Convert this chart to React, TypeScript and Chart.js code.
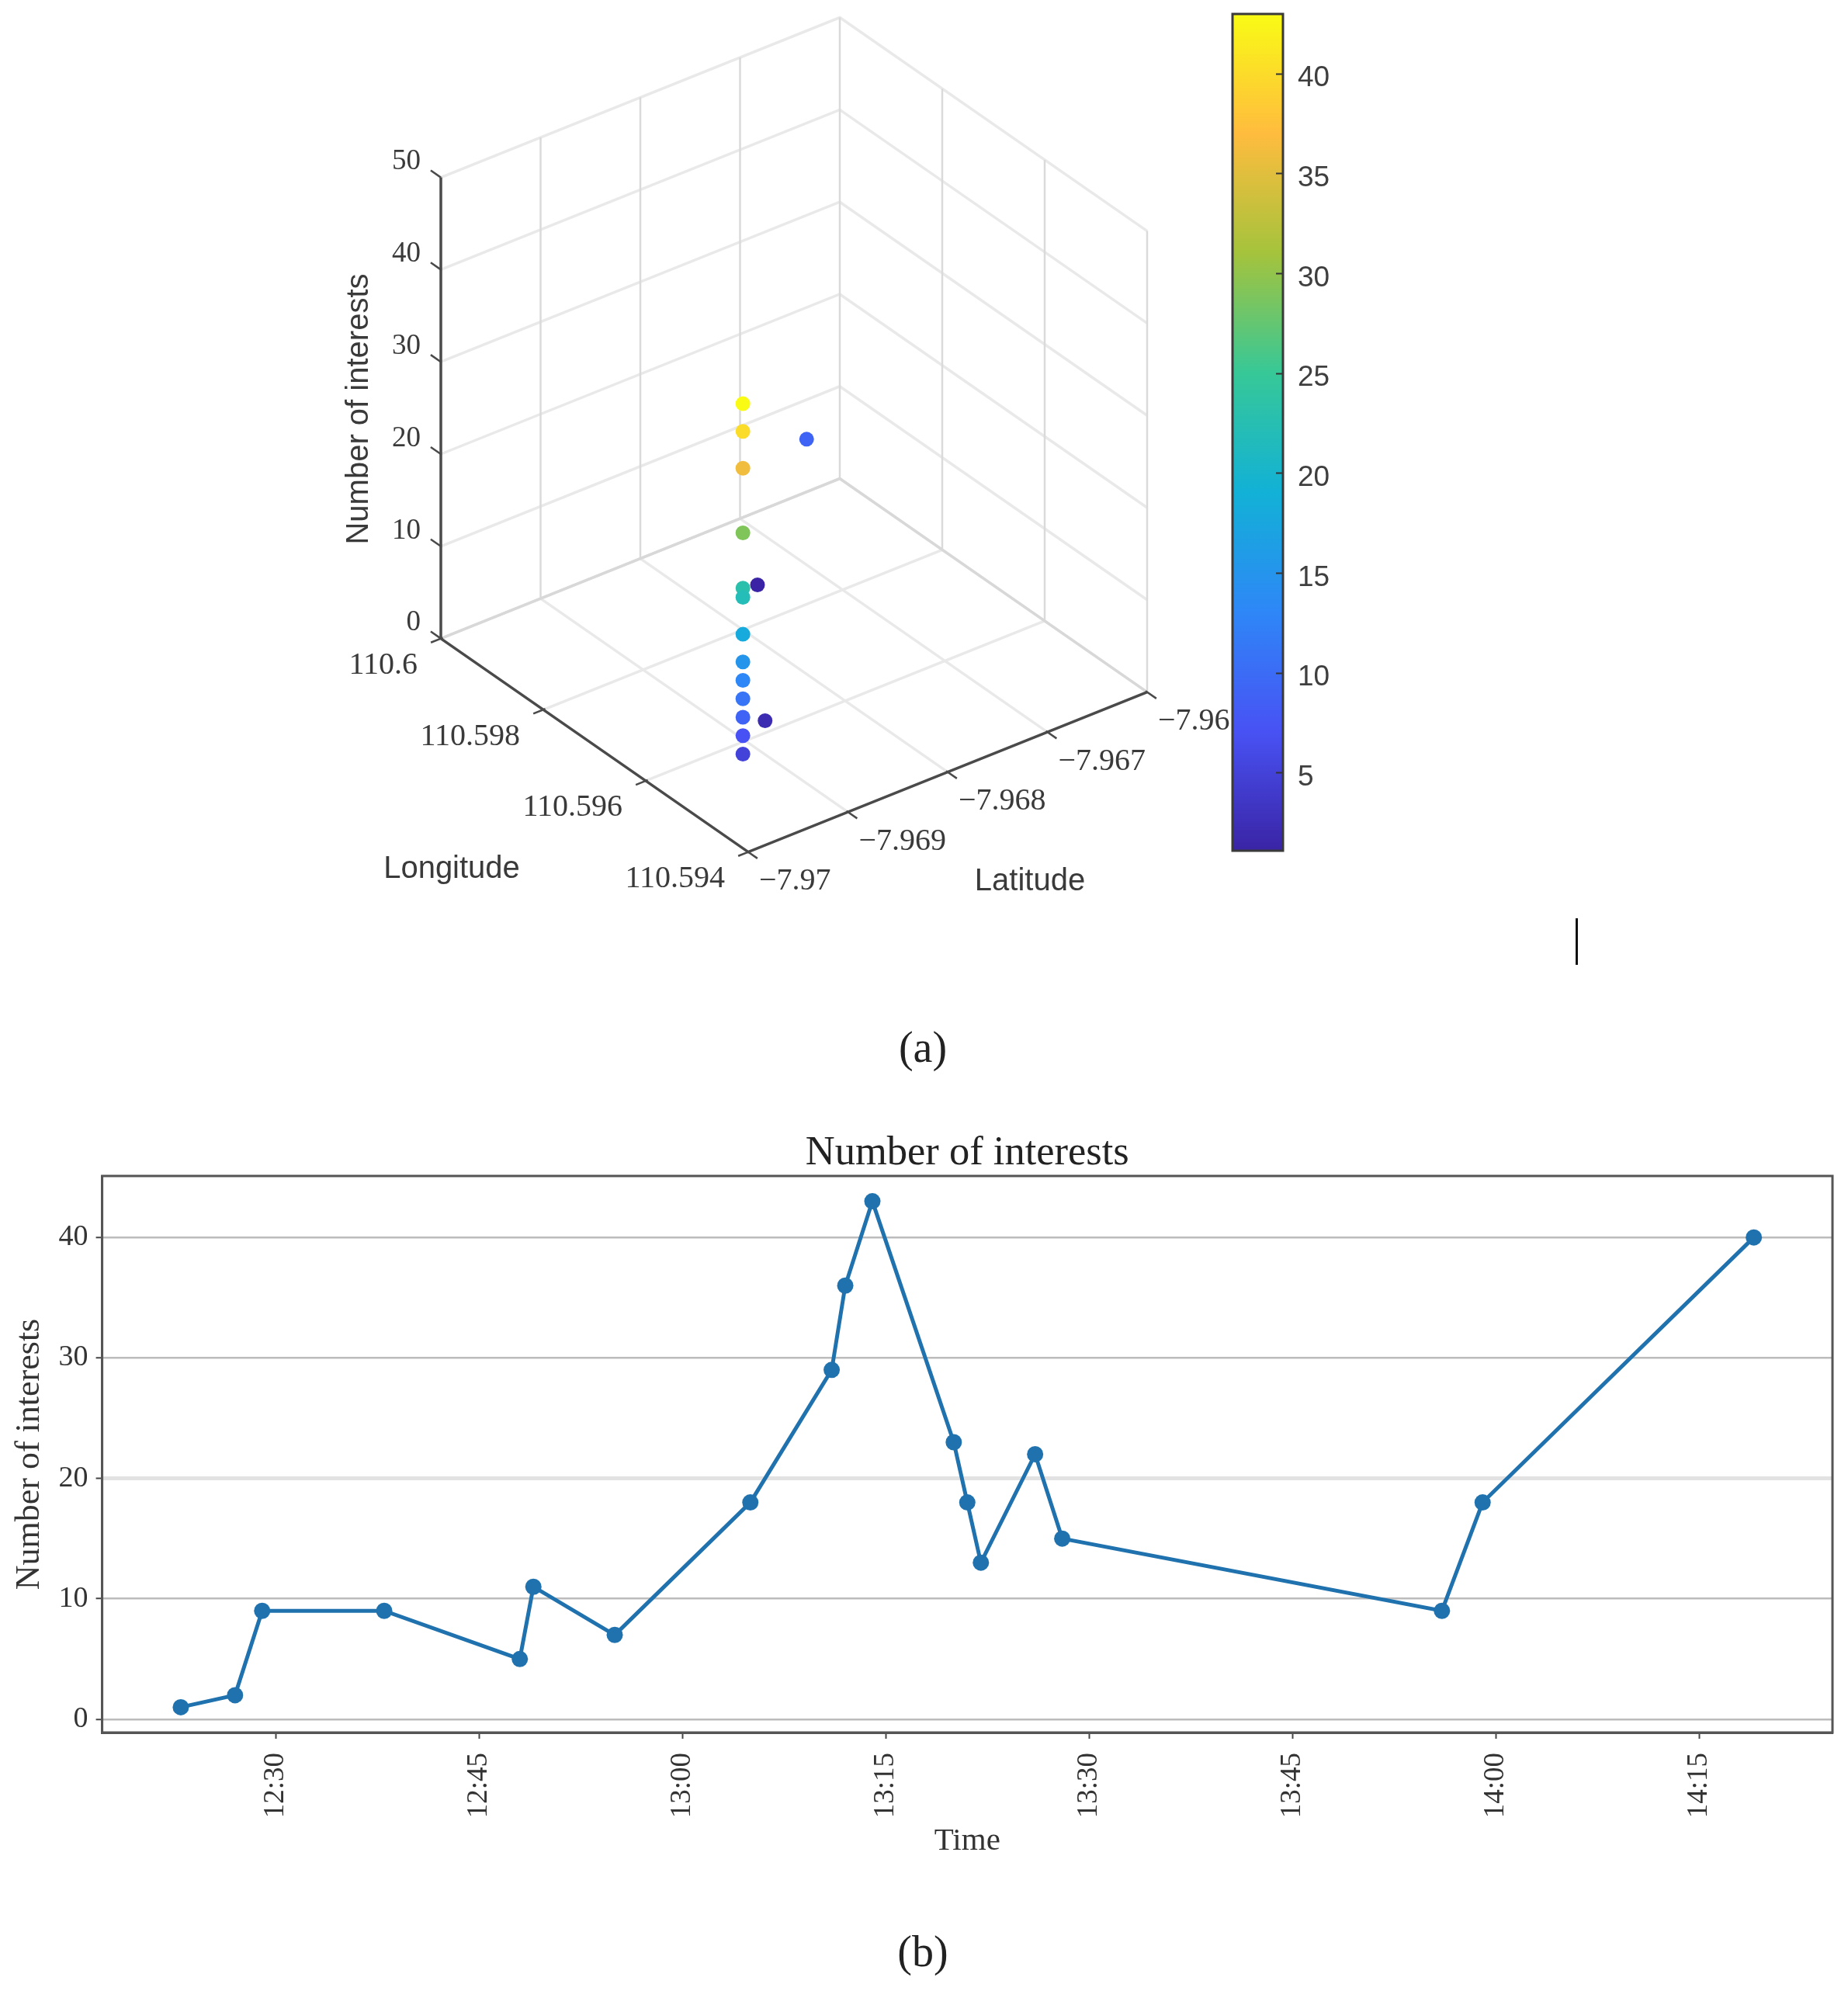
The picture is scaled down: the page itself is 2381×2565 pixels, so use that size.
import React, { useEffect, useRef } from 'react';
import { Chart, registerables } from 'chart.js';

Chart.register(...registerables);

// panel (a): location of every record
const longitudes = [110.59496, 110.59496, 110.59496, 110.59496, 110.59496, 110.59496, 110.59496, 110.59496, 110.59496, 110.59496, 110.59496, 110.59496, 110.59496, 110.59853, 110.59589, 110.59946];
const latitudes = [-7.96956, -7.96956, -7.96956, -7.96956, -7.96956, -7.96956, -7.96956, -7.96956, -7.96956, -7.96956, -7.96956, -7.96956, -7.96956, -7.96758, -7.96886, -7.96661];
const interests3d = [43, 40, 36, 29, 23, 22, 18, 15, 13, 11, 9, 7, 5, 1, 2, 9];

const lonTicks = ['110.6', '110.598', '110.596', '110.594'];
const latTicks = ['−7.97', '−7.969', '−7.968', '−7.967', '−7.966'];
const zTicks = [0, 10, 20, 30, 40, 50];
const colorbarTicks = [5, 10, 15, 20, 25, 30, 35, 40];
const parula = [[58, 36, 165], [72, 82, 244], [46, 135, 247], [18, 177, 214], [55, 200, 151], [165, 195, 60], [255, 188, 62], [249, 251, 21]];

// panel (b): time series
const times = ['12:23', '12:27', '12:29', '12:38', '12:48', '12:49', '12:55', '13:05', '13:11', '13:12', '13:14', '13:20', '13:21', '13:22', '13:26', '13:28', '13:56', '13:59', '14:19'];
const interests = [1, 2, 9, 9, 5, 11, 7, 18, 29, 36, 43, 23, 18, 13, 22, 15, 9, 18, 40];
const timeTicks = ['12:30', '12:45', '13:00', '13:15', '13:30', '13:45', '14:00', '14:15'];
const countTicks = [0, 10, 20, 30, 40];

const SERIF = '"Liberation Serif", serif';
const SANS = '"Liberation Sans", sans-serif';

const toMinutes = (t: string) => {
    const [h, m] = t.split(':').map(Number);
    return h * 60 + m;
};
const toLabel = (v: number) => `${Math.floor(v / 60)}:${String(v % 60).padStart(2, '0')}`;
const latValue = (s: string) => Number(s.replace('−', '-'));

// orthographic view of the box, gives canvas units
const project = (lon: number, lat: number, z: number, du = 0, dv = 0) => {
    const u = (110.6 - lon) / 0.006 + du;
    const v = (lat + 7.97) / 0.004 + dv;
    return {
        x: 568 + 396 * u + 514 * v,
        y: 822.6 + 275 * u - 206 * v - 11.88 * z,
    };
};

const colorFor = (value: number) => {
    const t = ((value - 1) / 42) * (parula.length - 1);
    const i = Math.min(Math.floor(t), parula.length - 2);
    const f = t - i;
    const c = parula[i].map((p, k) => Math.round(p + (parula[i + 1][k] - p) * f));
    return `rgb(${c[0]},${c[1]},${c[2]})`;
};

const GAP = { x: NaN, y: NaN };
const LON_MIN = 110.594, LON_MAX = 110.6, LAT_MIN = -7.97, LAT_MAX = -7.966, Z_MAX = 50;

const buildGrid = () => {
    const horizontal: any[] = [];
    const vertical: any[] = [];
    const edges: any[] = [];
    const axes: any[] = [];
    const marks: any[] = [];

    zTicks.forEach(z => {
        const list = z === 0 ? edges : horizontal;
        list.push(project(LON_MAX, LAT_MIN, z), project(LON_MAX, LAT_MAX, z), project(LON_MIN, LAT_MAX, z), GAP);
        marks.push(project(LON_MAX, LAT_MIN, z), project(LON_MAX, LAT_MIN, z, -0.033, 0), GAP);
    });
    latTicks.forEach(s => {
        const lat = latValue(s);
        horizontal.push(project(LON_MAX, lat, 0), project(LON_MIN, lat, 0), GAP);
        if (lat !== LAT_MIN) vertical.push(project(LON_MAX, lat, 0), project(LON_MAX, lat, Z_MAX), GAP);
        marks.push(project(LON_MIN, lat, 0, -0.005, 0), project(LON_MIN, lat, 0, 0.03, 0), GAP);
    });
    lonTicks.forEach(s => {
        const lon = Number(s);
        horizontal.push(project(lon, LAT_MIN, 0), project(lon, LAT_MAX, 0), GAP);
        if (lon !== LON_MAX) vertical.push(project(lon, LAT_MAX, 0), project(lon, LAT_MAX, Z_MAX), GAP);
        marks.push(project(lon, LAT_MIN, 0, 0, 0.005), project(lon, LAT_MIN, 0, 0, -0.025), GAP);
    });
    axes.push(project(LON_MAX, LAT_MIN, Z_MAX), project(LON_MAX, LAT_MIN, 0), project(LON_MIN, LAT_MIN, 0), project(LON_MIN, LAT_MAX, 0));
    return { horizontal, vertical, edges, axes, marks };
};

const box3dLabels = {
    id: 'box3dLabels',
    afterDraw(chart: any) {
        const { ctx, scales } = chart;
        const px = (p: { x: number; y: number }) => ({ x: scales.x.getPixelForValue(p.x), y: scales.y.getPixelForValue(p.y) });
        ctx.save();
        ctx.fillStyle = '#3a3a3a';
        ctx.textBaseline = 'middle';
        ctx.font = `37px ${SERIF}`;
        ctx.textAlign = 'right';
        zTicks.forEach(z => {
            const p = px(project(LON_MAX, LAT_MIN, z));
            ctx.fillText(String(z), p.x - 26, p.y - 20);
        });
        ctx.font = `40px ${SERIF}`;
        lonTicks.forEach(s => {
            const p = px(project(Number(s), LAT_MIN, 0));
            ctx.fillText(s, p.x - 30, p.y + 35);
        });
        ctx.textAlign = 'left';
        latTicks.forEach(s => {
            const p = px(project(LON_MIN, latValue(s), 0));
            ctx.fillText(s, p.x + 14, p.y + 38);
        });
        ctx.font = `40px ${SANS}`;
        ctx.textAlign = 'center';
        ctx.fillText('Longitude', 582, 1120);
        ctx.fillText('Latitude', 1327, 1136);
        ctx.translate(463, 527);
        ctx.rotate(-Math.PI / 2);
        ctx.fillText('Number of interests', 0, 0);
        ctx.restore();
    },
};

const frame = (color: string, width: number) => ({
    id: 'frame',
    afterDraw(chart: any) {
        const { ctx, chartArea: a } = chart;
        ctx.save();
        ctx.strokeStyle = color;
        ctx.lineWidth = width;
        ctx.strokeRect(a.left, a.top, a.right - a.left, a.bottom - a.top);
        ctx.restore();
    },
});

const Scatter3d: React.FC = () => {
    const ref = useRef<HTMLCanvasElement>(null);
    useEffect(() => {
        if (!ref.current) return;
        const grid = buildGrid();
        const lineSet = (data: any[], color: string, width: number) => ({
            type: 'scatter' as const,
            data,
            showLine: true,
            spanGaps: false,
            borderColor: color,
            borderWidth: width,
            pointRadius: 0,
        });
        const chart = new Chart(ref.current, {
            type: 'scatter',
            data: {
                datasets: [
                    {
                        data: interests3d.map((z, i) => project(longitudes[i], latitudes[i], z)),
                        pointBackgroundColor: interests3d.map(colorFor),
                        pointBorderWidth: 0,
                        pointRadius: 9.5,
                    },
                    lineSet(grid.axes, '#4a4a4a', 3.5),
                    lineSet(grid.marks, '#4a4a4a', 2.5),
                    lineSet(grid.edges, '#d8d8d8', 3.5),
                    lineSet(grid.vertical, '#dadada', 2.5),
                    lineSet(grid.horizontal, '#e9e9e9', 3.5),
                ] as any,
            },
            options: {
                responsive: false,
                animation: false,
                devicePixelRatio: 1,
                events: [],
                layout: { padding: 0, autoPadding: false },
                scales: {
                    x: { type: 'linear', display: false, min: 0, max: 2381 },
                    y: { type: 'linear', display: false, min: 0, max: 1440, reverse: true },
                },
                plugins: { legend: { display: false }, tooltip: { enabled: false } },
            },
            plugins: [box3dLabels],
        });
        return () => chart.destroy();
    }, []);
    return <canvas ref={ref} width={2381} height={1440} style={{ position: 'absolute', left: 0, top: 0 }} />;
};

const Colorbar: React.FC = () => {
    const ref = useRef<HTMLCanvasElement>(null);
    useEffect(() => {
        if (!ref.current) return;
        const chart = new Chart(ref.current, {
            type: 'bar',
            data: {
                labels: [''],
                datasets: [{
                    data: [[1.1, 43]] as any,
                    barPercentage: 1,
                    categoryPercentage: 1,
                    borderSkipped: false,
                    backgroundColor: (c: any) => {
                        const area = c.chart.chartArea;
                        if (!area) return '#888';
                        const g = c.chart.ctx.createLinearGradient(0, area.bottom, 0, area.top);
                        parula.forEach((p, i) => g.addColorStop(i / (parula.length - 1), `rgb(${p[0]},${p[1]},${p[2]})`));
                        return g;
                    },
                }],
            },
            options: {
                responsive: false,
                animation: false,
                devicePixelRatio: 1,
                events: [],
                layout: { padding: { left: 3, top: 18, bottom: 44, right: 0 }, autoPadding: false },
                scales: {
                    x: { display: false },
                    y: {
                        position: 'right',
                        min: 1.1,
                        max: 43,
                        afterBuildTicks: (s: any) => { s.ticks = colorbarTicks.map(value => ({ value })); },
                        afterFit: (s: any) => { s.width = 232; s.paddingTop = 0; s.paddingBottom = 0; },
                        border: { display: false },
                        grid: { drawOnChartArea: false, tickLength: -9, tickColor: '#333', tickWidth: 2, z: 1 },
                        ticks: { color: '#3f3f3f', padding: 28, labelOffset: 6, font: { family: SANS, size: 37 } },
                    },
                },
                plugins: { legend: { display: false }, tooltip: { enabled: false } },
            },
            plugins: [frame('#3a3a3a', 3)],
        });
        return () => chart.destroy();
    }, []);
    return <canvas ref={ref} width={300} height={1140} style={{ position: 'absolute', left: 1585, top: 0, background: '#fff' }} />;
};

const TimeSeries: React.FC = () => {
    const ref = useRef<HTMLCanvasElement>(null);
    useEffect(() => {
        if (!ref.current) return;
        const chart = new Chart(ref.current, {
            type: 'line',
            data: {
                datasets: [{
                    data: times.map((t, i) => ({ x: toMinutes(t), y: interests[i] })),
                    borderColor: '#1f72ae',
                    backgroundColor: '#1f72ae',
                    borderWidth: 5,
                    tension: 0,
                    pointRadius: 10.5,
                    pointBorderWidth: 0,
                }],
            },
            options: {
                responsive: false,
                animation: false,
                devicePixelRatio: 1,
                events: [],
                layout: { padding: { left: 0, top: 0, bottom: 0, right: 20 }, autoPadding: false },
                scales: {
                    x: {
                        type: 'linear',
                        min: 737.2,
                        max: 864.8,
                        afterBuildTicks: (s: any) => { s.ticks = timeTicks.map(t => ({ value: toMinutes(t) })); },
                        afterFit: (s: any) => { s.height = 333; s.paddingLeft = 0; s.paddingRight = 0; },
                        border: { color: '#555', width: 3 },
                        grid: { drawOnChartArea: false, tickLength: 8, tickColor: '#444', tickWidth: 2 },
                        ticks: {
                            autoSkip: false,
                            minRotation: 90,
                            maxRotation: 90,
                            padding: 18,
                            color: '#333',
                            font: { family: SERIF, size: 37 },
                            callback: (v: any) => toLabel(Number(v)),
                        },
                        title: { display: true, text: 'Time', color: '#333', font: { family: SERIF, size: 41 }, padding: { top: 0, bottom: 168 } },
                    },
                    y: {
                        min: -1.1,
                        max: 45.1,
                        afterBuildTicks: (s: any) => { s.ticks = countTicks.map(value => ({ value })); },
                        afterFit: (s: any) => { s.width = 131.6; s.paddingTop = 0; s.paddingBottom = 0; },
                        border: { color: '#555', width: 3 },
                        grid: {
                            color: (c: any) => (c.tick?.value === 20 ? '#e2e2e2' : '#bcbcbc'),
                            lineWidth: (c: any) => (c.tick?.value === 20 ? 5 : 2.5),
                            tickLength: 8,
                            tickColor: '#444',
                            tickWidth: 2,
                        },
                        ticks: { padding: 10, color: '#333', font: { family: SERIF, size: 38 } },
                        title: { display: true, text: 'Number of interests', color: '#333', font: { family: SERIF, size: 44 }, padding: { top: 12, bottom: 0 } },
                    },
                },
                plugins: {
                    legend: { display: false },
                    tooltip: { enabled: false },
                    title: {
                        display: true,
                        text: 'Number of interests',
                        color: '#222',
                        fullSize: false,
                        font: { family: SERIF, size: 52.5, weight: 'normal' },
                        padding: { top: 15, bottom: -3 },
                    },
                },
            },
            plugins: [frame('#555', 3)],
        });
        return () => chart.destroy();
    }, []);
    return <canvas ref={ref} width={2381} height={1125} style={{ position: 'absolute', left: 0, top: 1440 }} />;
};

const caption = (top: number): React.CSSProperties => ({
    position: 'absolute',
    left: 1089,
    top,
    width: 200,
    textAlign: 'center',
    font: `56px ${SERIF}`,
    lineHeight: '60px',
    color: '#222',
});

export default function App() {
    return (
        <div style={{ position: 'absolute', left: 0, top: 0, width: 2381, height: 2565, background: '#fff', overflow: 'hidden' }}>
            <Scatter3d />
            <Colorbar />
            <TimeSeries />
            <div style={{ position: 'absolute', left: 2030, top: 1183, width: 3, height: 60, background: '#111' }} />
            <div style={caption(1319)}>(a)</div>
            <div style={caption(2484)}>(b)</div>
        </div>
    );
}
